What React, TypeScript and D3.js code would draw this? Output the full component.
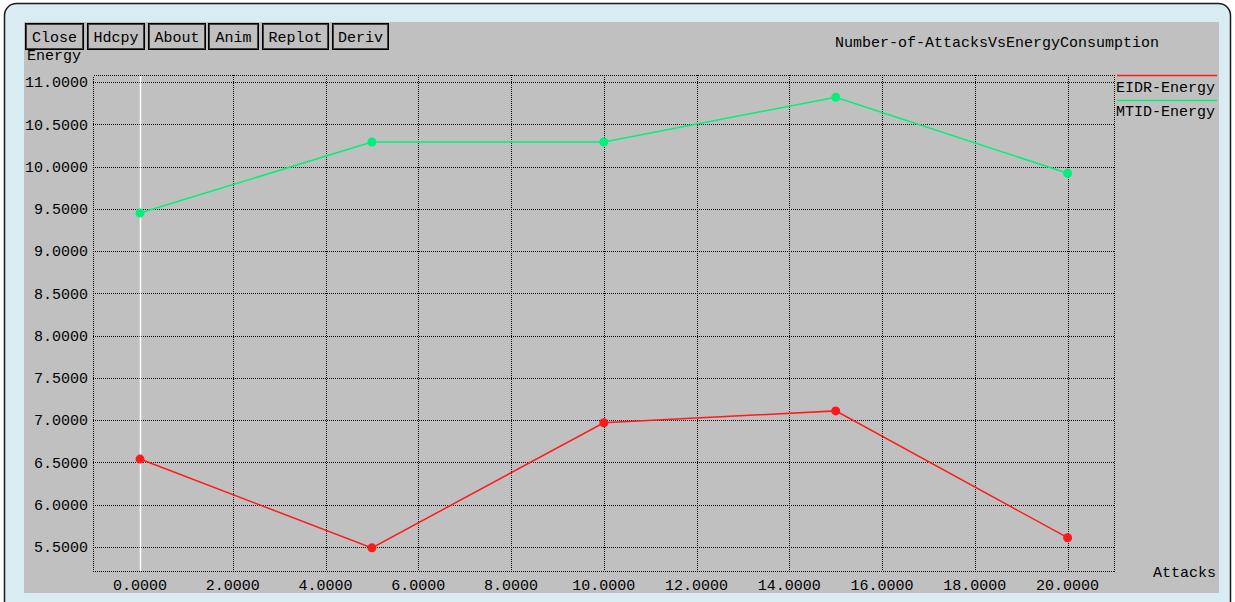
import React from "react";
import * as d3 from "d3";

// Data: number of attacks vs energy consumption
const attacks = [0, 5, 10, 15, 20];
const eidrEnergy = [6.54, 5.49, 6.97, 7.11, 5.61];
const mtidEnergy = [9.45, 10.29, 10.29, 10.82, 9.92];

const xTicks = [0, 2, 4, 6, 8, 10, 12, 14, 16, 18, 20];
const yTicks = [5.5, 6, 6.5, 7, 7.5, 8, 8.5, 9, 9.5, 10, 10.5, 11];

const buttons = ["Close", "Hdcpy", "About", "Anim", "Replot", "Deriv"];
const buttonX = [25, 87, 148, 208, 262, 332];
const buttonW = [58, 57, 57, 50, 66, 56];

const title = "Number-of-AttacksVsEnergyConsumption";
const series = [
  { name: "EIDR-Energy", values: eidrEnergy, color: "#ff1a1a" },
  { name: "MTID-Energy", values: mtidEnergy, color: "#00f07a" },
];

const W = 1235;
const H = 602;
const FONT = "'Liberation Mono', 'DejaVu Sans Mono', monospace";

export default function App() {
  const frame = { left: 93, right: 1114, top: 75, bottom: 571 };

  const x = d3.scaleLinear().domain([0, 20]).range([140, 1067.6]);
  const y = d3.scaleLinear().domain([5.5, 11]).range([547, 82]);

  const line = d3
    .line<number>()
    .x((_, i) => x(attacks[i]))
    .y((d) => y(d));

  const fmt = d3.format(".4f");

  return (
    <svg
      width={W}
      height={H}
      style={{ position: "absolute", left: 0, top: 0, display: "block" }}
      fontFamily={FONT}
      fontSize={15}
    >
      <rect x={0} y={0} width={W} height={H} fill="#ffffff" />
      <rect
        x={4.5}
        y={3.5}
        width={1226}
        height={640}
        rx={12}
        fill="#d9ecf2"
        stroke="#1a1a1a"
        strokeWidth={1.5}
      />
      {/* plot window */}
      <rect x={24} y={22} width={1195} height={571} fill="#c0c0c0" />

      {/* y axis name, tucked just below the buttons */}
      <text x={27} y={55} dy="0.35em" fill="#000">
        Energy
      </text>

      {/* buttons */}
      {buttons.map((b, i) => (
        <g key={b}>
          <rect
            x={buttonX[i] + 0.5}
            y={23.5}
            width={buttonW[i]}
            height={26}
            fill="#c0c0c0"
            stroke="#000"
            strokeWidth={1}
          />
          <rect
            x={buttonX[i] + 1.5}
            y={24.5}
            width={buttonW[i] - 2}
            height={24}
            fill="none"
            stroke="#404040"
            strokeWidth={1}
          />
          <text
            x={buttonX[i] + buttonW[i] / 2 + 0.5}
            y={36.5}
            dy="0.35em"
            textAnchor="middle"
            fill="#000"
          >
            {b}
          </text>
        </g>
      ))}

      {/* title */}
      <text x={835} y={42} dy="0.35em" fill="#000">
        {title}
      </text>

      {/* grid */}
      <g stroke="#000" strokeWidth={1} strokeDasharray="1 1" shapeRendering="crispEdges">
        {yTicks.map((t) => (
          <line
            key={"gy" + t}
            x1={frame.left}
            x2={frame.right}
            y1={Math.round(y(t)) + 0.5}
            y2={Math.round(y(t)) + 0.5}
          />
        ))}
        {xTicks
          .filter((t) => t !== 0)
          .map((t) => (
            <line
              key={"gx" + t}
              x1={Math.round(x(t)) + 0.5}
              x2={Math.round(x(t)) + 0.5}
              y1={frame.top}
              y2={frame.bottom}
            />
          ))}
        <rect
          x={frame.left + 0.5}
          y={frame.top + 0.5}
          width={frame.right - frame.left}
          height={frame.bottom - frame.top}
          fill="none"
        />
      </g>

      {/* zero axis */}
      <line
        x1={Math.round(x(0)) + 0.5}
        x2={Math.round(x(0)) + 0.5}
        y1={frame.top + 1}
        y2={frame.bottom}
        stroke="#ffffff"
        strokeWidth={1.5}
      />

      {/* tick labels */}
      {yTicks.map((t) => (
        <text key={"ly" + t} x={88} y={y(t)} dy="0.35em" textAnchor="end" fill="#000">
          {fmt(t)}
        </text>
      ))}
      {xTicks.map((t) => (
        <text key={"lx" + t} x={x(t)} y={585} dy="0.35em" textAnchor="middle" fill="#000">
          {fmt(t)}
        </text>
      ))}
      <text x={1153} y={572} dy="0.35em" fill="#000">
        Attacks
      </text>

      {/* series */}
      {series.map((s) => (
        <g key={s.name}>
          <path d={line(s.values) || ""} fill="none" stroke={s.color} strokeWidth={1.5} />
          {s.values.map((v, i) => (
            <circle key={i} cx={x(attacks[i])} cy={y(v)} r={4.5} fill={s.color} />
          ))}
        </g>
      ))}

      {/* legend */}
      {series.map((s, i) => (
        <g key={"lg" + s.name}>
          <line
            x1={1117}
            x2={1217}
            y1={75.5 + i * 25}
            y2={75.5 + i * 25}
            stroke={s.color}
            strokeWidth={1.5}
          />
          <text x={1116} y={87 + i * 24} dy="0.35em" fill="#000">
            {s.name}
          </text>
        </g>
      ))}
    </svg>
  );
}
